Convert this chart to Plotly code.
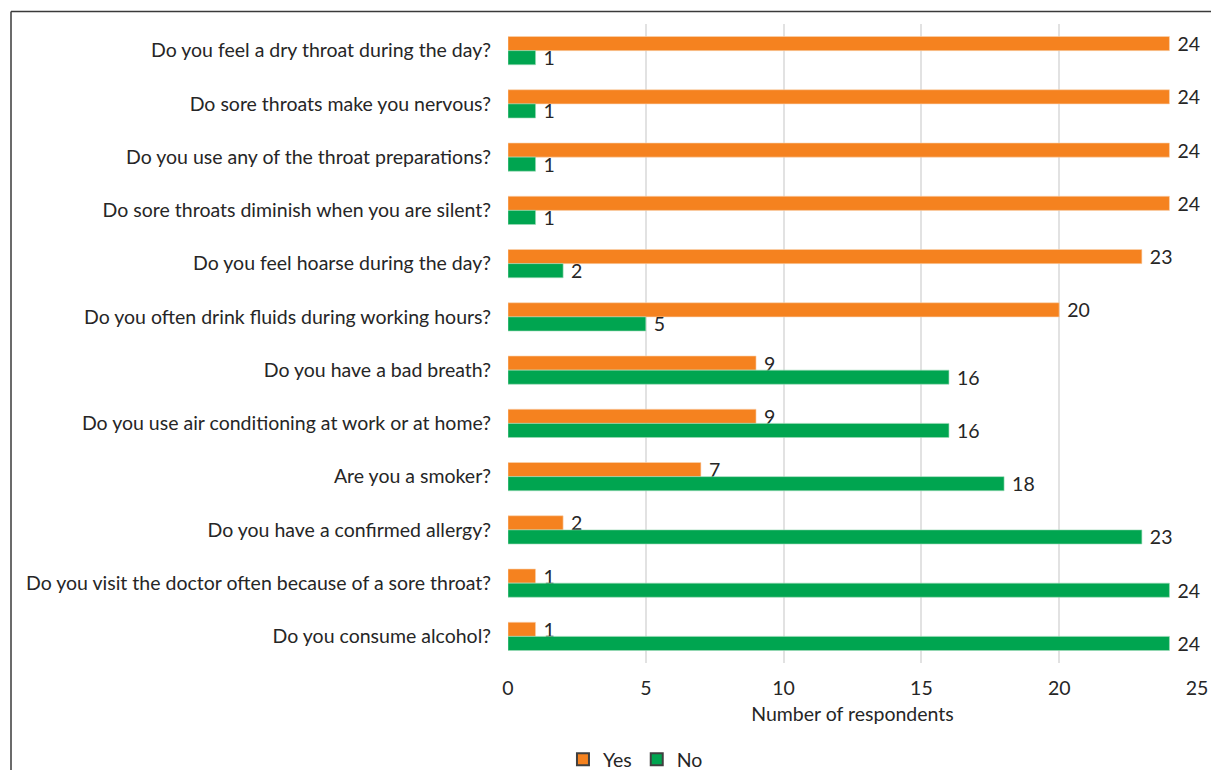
import plotly.graph_objects as go

# Survey questions, listed top to bottom
questions = [
    "Do you feel a dry throat during the day?",
    "Do sore throats make you nervous?",
    "Do you use any of the throat preparations?",
    "Do sore throats diminish when you are silent?",
    "Do you feel hoarse during the day?",
    "Do you often drink fluids during working hours?",
    "Do you have a bad breath?",
    "Do you use air conditioning at work or at home?",
    "Are you a smoker?",
    "Do you have a confirmed allergy?",
    "Do you visit the doctor often because of a sore throat?",
    "Do you consume alcohol?",
]
yes_counts = [24, 24, 24, 24, 23, 20, 9, 9, 7, 2, 1, 1]
no_counts = [1, 1, 1, 1, 2, 5, 16, 16, 18, 23, 24, 24]

x_ticks = [0, 5, 10, 15, 20, 25]

ORANGE = "#F5821F"
GREEN = "#00A550"
TEXT = "#262626"
FONT = "Lato, Open Sans, sans-serif"
FS = 19.5

fig = go.Figure()
fig.add_trace(go.Bar(
    name="Yes", y=questions, x=yes_counts, orientation="h",
    marker=dict(color=ORANGE, line=dict(color="#FAD3B0", width=0.6)),
    texttemplate="\u00a0%{x}", textposition="outside", cliponaxis=False,
    constraintext="none",
    textfont=dict(size=FS, color=TEXT, family=FONT), showlegend=False,
))
fig.add_trace(go.Bar(
    name="No", y=questions, x=no_counts, orientation="h",
    marker=dict(color=GREEN, line=dict(color="#9FDCB9", width=0.6)),
    texttemplate="\u00a0%{x}", textposition="outside", cliponaxis=False,
    constraintext="none",
    textfont=dict(size=FS, color=TEXT, family=FONT), showlegend=False,
))

# Legend entries: squares with dark outline
for name, color in [("Yes", ORANGE), ("No", GREEN)]:
    fig.add_trace(go.Scatter(
        x=[None], y=[None], mode="markers", name=name,
        marker=dict(symbol="square", size=16, color=color,
                    line=dict(color="#404040", width=1)),
    ))

# Outer frame (left and top edges)
left_px, top_px = 11, 12
plot_l, plot_r = 508, 1197
plot_t, plot_b = 24.4, 662.6
fx = (left_px - plot_l) / (plot_r - plot_l)
fy = (plot_b - top_px) / (plot_b - plot_t)
frame = dict(color="#3A3A3A", width=1.5)
fig.add_shape(type="line", xref="paper", yref="paper",
              x0=fx, y0=fy, x1=1.1, y1=fy, line=frame)
fig.add_shape(type="line", xref="paper", yref="paper",
              x0=fx, y0=fy, x1=fx, y1=-0.3, line=frame)

legend_y = (plot_b - 759) / (plot_b - plot_t)

fig.update_layout(
    width=1211, height=770,
    margin=dict(l=508, r=14, t=24, b=107, autoexpand=False),
    paper_bgcolor="white", plot_bgcolor="white",
    barmode="group", bargap=0.47, bargroupgap=0,
    font=dict(family=FONT, size=FS, color=TEXT),
    showlegend=True,
    legend=dict(orientation="h", x=0.185, xanchor="center", y=legend_y,
                yanchor="middle", font=dict(size=FS, color=TEXT),
                itemwidth=30, tracegroupgap=0, itemsizing="constant",
                bgcolor="rgba(0,0,0,0)"),
    xaxis=dict(range=[0, 25], tickvals=x_ticks, showgrid=True,
               gridcolor="#E2E2E2", gridwidth=2, zeroline=False,
               showline=False, ticks="", ticklabelstandoff=11,
               tickfont=dict(size=FS, color=TEXT),
               title=dict(text="Number of respondents", standoff=9,
                          font=dict(size=FS, color=TEXT))),
    yaxis=dict(autorange="reversed", showgrid=False, zeroline=False,
               showline=False, ticks="", ticklabelstandoff=16,
               tickfont=dict(size=FS, color=TEXT)),
)

fig.write_html("out.html")
